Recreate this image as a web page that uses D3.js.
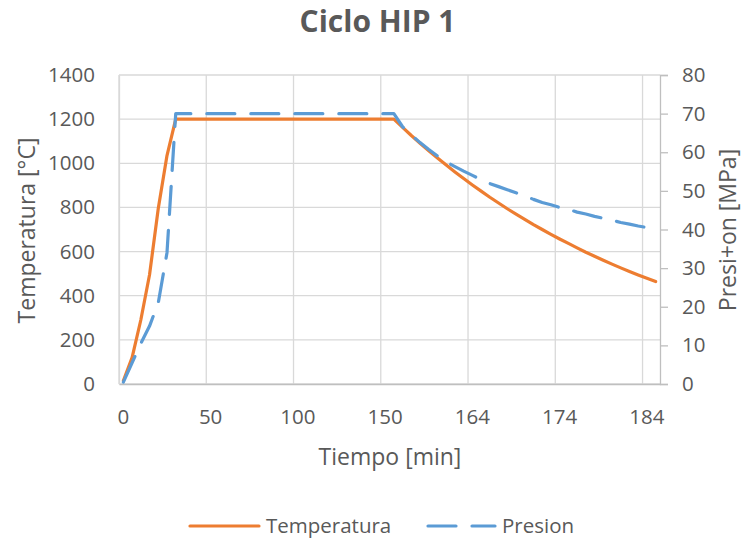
<!DOCTYPE html>
<html>
<head>
<meta charset="utf-8">
<script src="https://cdn.jsdelivr.net/npm/d3@7"></script>
<style>
  html, body { margin: 0; padding: 0; background: #fff; }
  svg { display: block; font-family: "Open Sans", "Noto Sans", sans-serif; }
</style>
</head>
<body>
<svg id="chart" width="743" height="539"></svg>
<script>
// Time categories [min]: every 5 min up to the end of the hold, then every minute during cooling
const tiempo = [
  0, 5, 10, 15, 20, 25, 30, 35, 40, 45, 50, 55, 60, 65, 70, 75, 80, 85, 90, 95,
  100, 105, 110, 115, 120, 125, 130, 135, 140, 145, 150, 155,
  156, 157, 158, 159, 160, 161, 162, 163, 164, 165, 166, 167, 168, 169, 170,
  171, 172, 173, 174, 175, 176, 177, 178, 179, 180, 181, 182, 183, 184, 185
];

// Temperature [°C]
const temperatura = [
  15, 120, 290, 495, 795, 1035, 1200, 1200, 1200, 1200, 1200, 1200, 1200, 1200, 1200, 1200,
  1200, 1200, 1200, 1200, 1200, 1200, 1200, 1200, 1200, 1200, 1200, 1200, 1200, 1200, 1200, 1200,
  1163, 1126, 1091, 1057, 1024, 992, 961, 931, 902, 874, 846, 820, 794, 770, 746,
  722, 700, 678, 657, 637, 617, 597, 579, 561, 543, 526, 510, 494, 479, 464
];

// Pressure [MPa]
const presion = [
  0.5, 5.5, 10.5, 15, 21, 34, 70, 70, 70, 70, 70, 70, 70, 70, 70, 70,
  70, 70, 70, 70, 70, 70, 70, 70, 70, 70, 70, 70, 70, 70, 70, 70,
  66.6, 64.5, 62.5, 60.7, 59.0, 57.5, 56.3, 55.1, 54.0, 52.9, 51.9, 51.1, 50.3, 49.5, 48.7,
  47.8, 47.0, 46.4, 45.7, 45.2, 44.5, 44.0, 43.4, 42.9, 42.4, 41.8, 41.4, 40.9, 40.5, 40.0
];

// Axis tick labels
const tiemposEtiquetados = [0, 50, 100, 150, 164, 174, 184];
const ticksTemperatura = [0, 200, 400, 600, 800, 1000, 1200, 1400];
const ticksPresion = [0, 10, 20, 30, 40, 50, 60, 70, 80];

const colorTemp = "#ED7D31";
const colorPres = "#5B9BD5";
const textColor = "#595959";
const gridColor = "#D9D9D9";
const axisColor = "#BFBFBF";

const svg = d3.select("#chart");
const plot = { left: 119, right: 660, top: 75, bottom: 384 };

// Category axis: each time value gets one band, lines go through band centres
const x = d3.scaleBand().domain(tiempo).range([plot.left, plot.right]).padding(0);
const bw = x.bandwidth();
const xc = t => x(t) + bw / 2;

const yT = d3.scaleLinear().domain([0, 1400]).range([plot.bottom, plot.top]);
const yP = d3.scaleLinear().domain([0, 80]).range([plot.bottom, plot.top]);

// Horizontal gridlines
svg.append("g")
  .selectAll("line")
  .data(ticksTemperatura)
  .join("line")
  .attr("x1", plot.left).attr("x2", plot.right)
  .attr("y1", d => yT(d)).attr("y2", d => yT(d))
  .attr("stroke", gridColor).attr("stroke-width", 1.3);

// Vertical gridlines at the boundary before each labelled category
svg.append("g")
  .selectAll("line")
  .data(tiemposEtiquetados)
  .join("line")
  .attr("x1", d => x(d)).attr("x2", d => x(d))
  .attr("y1", plot.top).attr("y2", plot.bottom)
  .attr("stroke", gridColor).attr("stroke-width", 1.3);

// Bottom axis
const xAxis = d3.axisBottom(x)
  .tickValues(tiemposEtiquetados)
  .tickSize(0)
  .tickPadding(25);
const gx = svg.append("g")
  .attr("transform", `translate(0,${plot.bottom})`)
  .call(xAxis);
gx.select(".domain").attr("stroke", axisColor).attr("stroke-width", 1.3);
gx.selectAll("text")
  .attr("fill", textColor)
  .attr("font-size", 20.5)
  .attr("font-family", "'Open Sans', sans-serif");

// Left axis (temperature)
const gyT = svg.append("g")
  .attr("transform", `translate(${plot.left},0)`)
  .call(d3.axisLeft(yT).tickValues(ticksTemperatura).tickFormat(d3.format("d")).tickSize(0).tickPadding(24));
gyT.select(".domain").attr("stroke", gridColor).attr("stroke-width", 1.3);
gyT.selectAll("text")
  .attr("fill", textColor)
  .attr("font-size", 20.5)
  .attr("font-family", "'Open Sans', sans-serif");

// Right axis (pressure)
const gyP = svg.append("g")
  .attr("transform", `translate(${plot.right},0)`)
  .call(d3.axisRight(yP).tickValues(ticksPresion).tickFormat(d3.format("d")).tickSize(8).tickPadding(14));
gyP.select(".domain").attr("stroke", axisColor).attr("stroke-width", 1.3);
gyP.selectAll(".tick line").attr("stroke", axisColor).attr("stroke-width", 1.3);
gyP.selectAll("text")
  .attr("fill", textColor)
  .attr("font-size", 20.5)
  .attr("font-family", "'Open Sans', sans-serif");

// Series lines
const datos = tiempo.map((t, i) => ({ t, temp: temperatura[i], pres: presion[i] }));

svg.append("path")
  .datum(datos)
  .attr("fill", "none")
  .attr("stroke", colorTemp)
  .attr("stroke-width", 3.2)
  .attr("stroke-linejoin", "round")
  .attr("stroke-linecap", "round")
  .attr("d", d3.line().x(d => xc(d.t)).y(d => yT(d.temp)));

svg.append("path")
  .datum(datos)
  .attr("fill", "none")
  .attr("stroke", colorPres)
  .attr("stroke-width", 3.2)
  .attr("stroke-linejoin", "round")
  .attr("stroke-linecap", "round")
  .attr("stroke-dasharray", "28 16")
  .attr("d", d3.line().x(d => xc(d.t)).y(d => yP(d.pres)));

// Title
svg.append("text")
  .attr("x", 377.5).attr("y", 32)
  .attr("text-anchor", "middle")
  .attr("font-size", 30)
  .attr("font-weight", "bold")
  .attr("fill", textColor)
  .text("Ciclo HIP 1");

// Axis titles
svg.append("text")
  .attr("x", 390).attr("y", 465)
  .attr("text-anchor", "middle")
  .attr("font-size", 23)
  .attr("fill", textColor)
  .text("Tiempo [min]");

svg.append("text")
  .attr("transform", "translate(35,230.5) rotate(-90)")
  .attr("text-anchor", "middle")
  .attr("font-size", 23)
  .attr("fill", textColor)
  .text("Temperatura [°C]");

svg.append("text")
  .attr("transform", "translate(736,230) rotate(-90)")
  .attr("text-anchor", "middle")
  .attr("font-size", 23)
  .attr("fill", textColor)
  .text("Presi+on [MPa]");

// Legend
const legend = svg.append("g");
const leyenda = [
  { nombre: "Temperatura", color: colorTemp, dash: null, x0: 190, x1: 259, tx: 266 },
  { nombre: "Presion", color: colorPres, dash: "28 16", x0: 428, x1: 495, tx: 502 }
];
leyenda.forEach(l => {
  legend.append("line")
    .attr("x1", l.x0).attr("x2", l.x1)
    .attr("y1", 526).attr("y2", 526)
    .attr("stroke", l.color)
    .attr("stroke-width", 3.2)
    .attr("stroke-linecap", "round")
    .attr("stroke-dasharray", l.dash);
  legend.append("text")
    .attr("x", l.tx).attr("y", 533)
    .attr("font-size", 20.5)
    .attr("fill", textColor)
    .text(l.nombre);
});
</script>
</body>
</html>
